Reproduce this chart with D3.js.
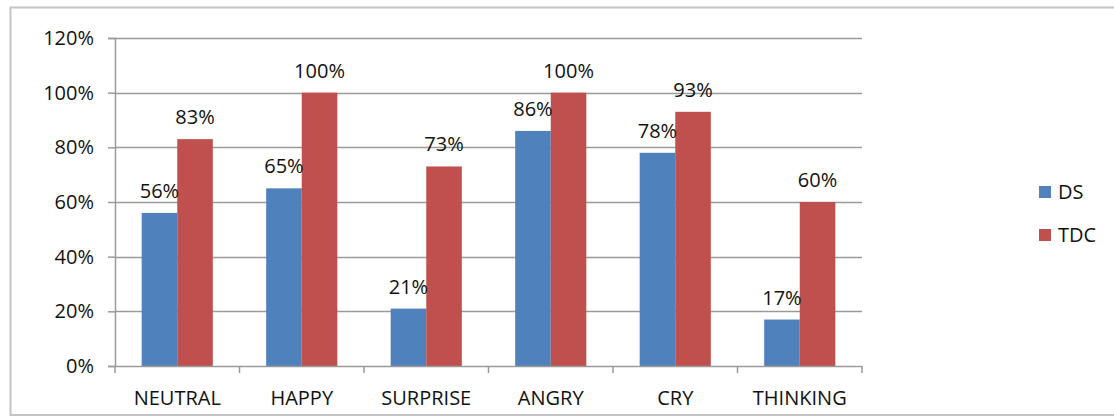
<!DOCTYPE html>
<html>
<head>
<meta charset="utf-8">
<script src="https://cdn.jsdelivr.net/npm/d3@7"></script>
<style>
html, body { margin: 0; padding: 0; background: #fff; }
svg { display: block; }
text { font-family: "Open Sans", "Liberation Sans", sans-serif; fill: #111; font-weight: 500; }
</style>
</head>
<body>
<svg id="chart" width="1114" height="417"></svg>
<script>
const categories = ["NEUTRAL", "HAPPY", "SURPRISE", "ANGRY", "CRY", "THINKING"];
const seriesNames = ["DS", "TDC"];
const dsValues = [0.56, 0.65, 0.21, 0.86, 0.78, 0.17];
const tdcValues = [0.83, 1.00, 0.73, 1.00, 0.93, 0.60];
const yTickValues = [0, 0.2, 0.4, 0.6, 0.8, 1.0, 1.2];
const seriesColors = ["#4F81BD", "#C0504D"];

const svg = d3.select("#chart");
const margin = { left: 115, right: 862, top: 38, bottom: 366 };

// outer frame
svg.append("rect")
  .attr("x", 10.5).attr("y", 7.5)
  .attr("width", 1130).attr("height", 407.5)
  .attr("fill", "none").attr("stroke", "#c4c4c4").attr("stroke-width", 2);

const x = d3.scaleBand().domain(categories).range([margin.left, margin.right]).padding(0);
const W = x.bandwidth();
const barW = W / 3.5;
const xs = d3.scaleBand().domain(seriesNames).range([barW * 0.75, W - barW * 0.75]).padding(0);
const y = d3.scaleLinear().domain([0, 1.2]).range([margin.bottom, margin.top]);

// gridlines
svg.append("g").selectAll("line").data(yTickValues.slice(1)).join("line")
  .attr("x1", margin.left).attr("x2", margin.right)
  .attr("y1", d => Math.round(y(d)) + 0.5).attr("y2", d => Math.round(y(d)) + 0.5)
  .attr("stroke", "#9a9a9a").attr("stroke-width", 1.5);

// y axis
const yAxis = svg.append("g")
  .attr("transform", `translate(${margin.left},0)`)
  .call(d3.axisLeft(y).tickValues(yTickValues).tickFormat(d3.format(".0%")).tickSize(7).tickPadding(14));
yAxis.select(".domain").attr("stroke", "#9a9a9a").attr("stroke-width", 1.5);
yAxis.selectAll(".tick line").attr("stroke", "#9a9a9a").attr("stroke-width", 1.5);
yAxis.selectAll("text").style("font-size", "20px").style("font-family", "'Open Sans', sans-serif")
  .style("font-weight", 500).attr("fill", "#111");

const data = categories.map((c, i) => ({ cat: c, vals: [dsValues[i], tdcValues[i]] }));

// bars
const groups = svg.append("g").selectAll("g").data(data).join("g")
  .attr("transform", d => `translate(${x(d.cat)},0)`);
groups.selectAll("rect").data(d => d.vals.map((v, j) => ({ v, s: seriesNames[j], j }))).join("rect")
  .attr("x", d => xs(d.s)).attr("width", xs.bandwidth())
  .attr("y", d => y(d.v)).attr("height", d => y(0) - y(d.v))
  .attr("fill", d => seriesColors[d.j]);

// labels
groups.selectAll("text").data(d => d.vals.map((v, j) => ({ v, s: seriesNames[j], j }))).join("text")
  .attr("x", d => xs(d.s) + xs.bandwidth() / 2)
  .attr("y", d => y(d.v) - 15)
  .attr("text-anchor", "middle")
  .style("font-size", "20px")
  .text(d => d3.format(".0%")(d.v));

// x axis
const xTicks = d3.range(categories.length + 1).map(i => margin.left + i * W);
svg.append("g").selectAll("line").data(xTicks).join("line")
  .attr("x1", d => d).attr("x2", d => d)
  .attr("y1", margin.bottom).attr("y2", margin.bottom + 7)
  .attr("stroke", "#9a9a9a").attr("stroke-width", 1.5);
svg.append("line")
  .attr("x1", margin.left).attr("x2", margin.right)
  .attr("y1", margin.bottom + 0.5).attr("y2", margin.bottom + 0.5)
  .attr("stroke", "#9a9a9a").attr("stroke-width", 1.5);
svg.append("g").selectAll("text").data(categories).join("text")
  .attr("x", d => x(d) + W / 2)
  .attr("y", margin.bottom + 39)
  .attr("text-anchor", "middle")
  .style("font-size", "20px")
  .text(d => d);

// legend
const legend = svg.append("g").selectAll("g").data(seriesNames).join("g")
  .attr("transform", (d, i) => `translate(1039,${186 + i * 43})`);
legend.append("rect").attr("width", 12).attr("height", 12).attr("fill", (d, i) => seriesColors[i]);
legend.append("text").attr("x", 19).attr("y", 13).style("font-size", "20px").text(d => d);
</script>
</body>
</html>
